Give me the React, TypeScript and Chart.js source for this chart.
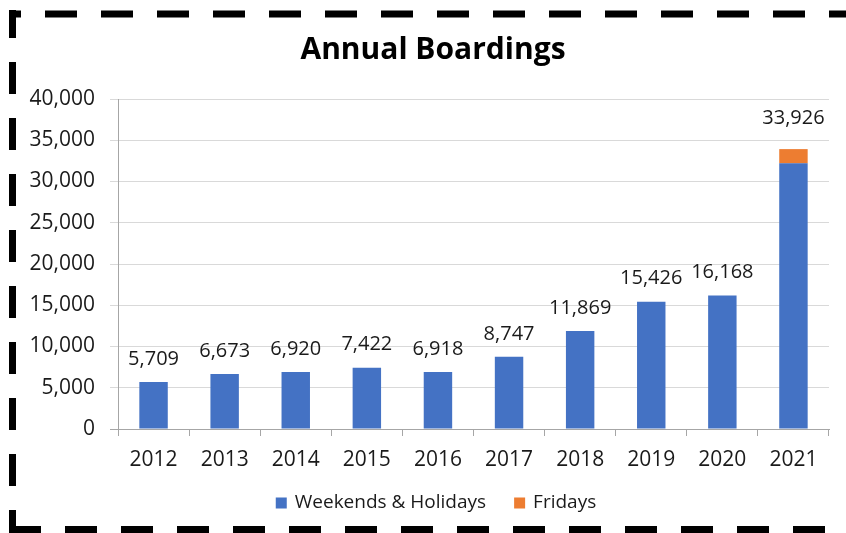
import React, { useEffect, useRef } from "react";
import { Chart, registerables } from "chart.js";

Chart.register(...registerables);

const years = ["2012", "2013", "2014", "2015", "2016", "2017", "2018", "2019", "2020", "2021"];
const weekendsHolidays = [5709, 6673, 6920, 7422, 6918, 8747, 11869, 15426, 16168, 32200];
const fridays = [0, 0, 0, 0, 0, 0, 0, 0, 0, 1726];
const totalLabels = ["5,709", "6,673", "6,920", "7,422", "6,918", "8,747", "11,869", "15,426", "16,168", "33,926"];
const titleText = "Annual Boardings";

const FONT = "'Open Sans', 'Noto Sans', sans-serif";

const decorPlugin = {
  id: "decor",
  beforeDraw(chart: any) {
    const ctx = chart.ctx;
    ctx.save();
    ctx.fillStyle = "#ffffff";
    ctx.fillRect(0, 0, chart.width, chart.height);
    ctx.restore();
  },
  afterDraw(chart: any) {
    const ctx = chart.ctx;
    ctx.save();
    // dashed border
    ctx.strokeStyle = "#000000";
    ctx.lineWidth = 7;
    ctx.lineCap = "butt";
    ctx.setLineDash([32, 24]);
    // top
    ctx.lineDashOffset = 20;
    ctx.beginPath();
    ctx.moveTo(9, 14);
    ctx.lineTo(chart.width + 10, 14);
    ctx.stroke();
    // left
    ctx.lineDashOffset = 4;
    ctx.beginPath();
    ctx.moveTo(12.5, 10);
    ctx.lineTo(12.5, 533);
    ctx.stroke();
    // bottom
    ctx.lineDashOffset = 0;
    ctx.beginPath();
    ctx.moveTo(9, 529.5);
    ctx.lineTo(chart.width + 10, 529.5);
    ctx.stroke();
    ctx.setLineDash([]);

    // title
    ctx.fillStyle = "#000000";
    ctx.font = `bold 30px ${FONT}`;
    ctx.textAlign = "center";
    ctx.textBaseline = "alphabetic";
    ctx.fillText(titleText, 433, 59);

    // data labels (stack totals)
    const meta0 = chart.getDatasetMeta(0);
    const yScale = chart.scales.y;
    ctx.font = `20px ${FONT}`;
    ctx.fillStyle = "#1a1a1a";
    ctx.textBaseline = "middle";
    for (let i = 0; i < years.length; i++) {
      const total = weekendsHolidays[i] + fridays[i];
      const x = meta0.data[i].x;
      const lift = fridays[i] > 0 ? 31 : 23;
      const y = yScale.getPixelForValue(total) - lift;
      ctx.fillText(totalLabels[i], x, y);
    }

    // legend
    const items = chart.data.datasets.map((d: any) => ({ label: d.label, color: d.backgroundColor }));
    ctx.font = `19px ${FONT}`;
    const box = 11;
    const gapBoxText = 8;
    const gapItems = 28;
    const widths = items.map((it: any) => box + gapBoxText + ctx.measureText(it.label).width);
    const totalW = widths.reduce((a: number, b: number) => a + b, 0) + gapItems * (items.length - 1);
    let lx = 436 - totalW / 2;
    const ly = 503;
    ctx.textAlign = "left";
    ctx.textBaseline = "middle";
    items.forEach((it: any, k: number) => {
      ctx.fillStyle = it.color;
      ctx.fillRect(lx, ly - box / 2, box, box);
      ctx.fillStyle = "#1a1a1a";
      ctx.fillText(it.label, lx + box + gapBoxText, ly);
      lx += widths[k] + gapItems;
    });
    ctx.restore();
  },
};

export default function App() {
  const ref = useRef<HTMLCanvasElement | null>(null);
  useEffect(() => {
    document.body.style.margin = "0";
    const canvas = ref.current;
    if (!canvas) return;
    const chart = new Chart(canvas, {
      type: "bar",
      data: {
        labels: years,
        datasets: [
          {
            label: "Weekends & Holidays",
            data: weekendsHolidays,
            backgroundColor: "#4472c4",
            borderWidth: 0,
            categoryPercentage: 1,
            barPercentage: 0.4,
          },
          {
            label: "Fridays",
            data: fridays,
            backgroundColor: "#ed7d31",
            borderWidth: 0,
            categoryPercentage: 1,
            barPercentage: 0.4,
          },
        ],
      },
      options: {
        responsive: false,
        animation: false,
        devicePixelRatio: 1,
        layout: { padding: { left: 0, right: 17, top: 99, bottom: 50 } },
        plugins: {
          legend: { display: false },
          title: { display: false },
          tooltip: { enabled: false },
        },
        scales: {
          x: {
            stacked: true,
            afterFit: (s: any) => {
              s.height = 54;
            },
            border: { display: true, color: "#a6a6a6", width: 1 },
            grid: {
              display: true,
              drawOnChartArea: false,
              drawTicks: true,
              tickLength: 7,
              color: "#a6a6a6",
              offset: true,
            },
            ticks: {
              padding: 11,
              color: "#1a1a1a",
              font: { family: FONT, size: 21 },
            },
          },
          y: {
            stacked: true,
            min: 0,
            max: 40000,
            afterFit: (s: any) => {
              s.width = 118;
            },
            border: { display: true, color: "#a6a6a6", width: 1 },
            grid: {
              color: (c: any) => (c.tick && c.tick.value === 0 ? "#a6a6a6" : "#d9d9d9"),
              tickLength: 8,
              drawTicks: true,
            },
            ticks: {
              stepSize: 5000,
              padding: 15,
              color: "#1a1a1a",
              font: { family: FONT, size: 21 },
              callback: (v: any) => Number(v).toLocaleString("en-US"),
            },
          },
        },
      },
      plugins: [decorPlugin],
    });
    return () => chart.destroy();
  }, []);
  return (
    <div style={{ position: "fixed", left: 0, top: 0, width: 846, height: 533 }}>
      <canvas ref={ref} width={846} height={533} style={{ width: 846, height: 533, display: "block" }} />
    </div>
  );
}
